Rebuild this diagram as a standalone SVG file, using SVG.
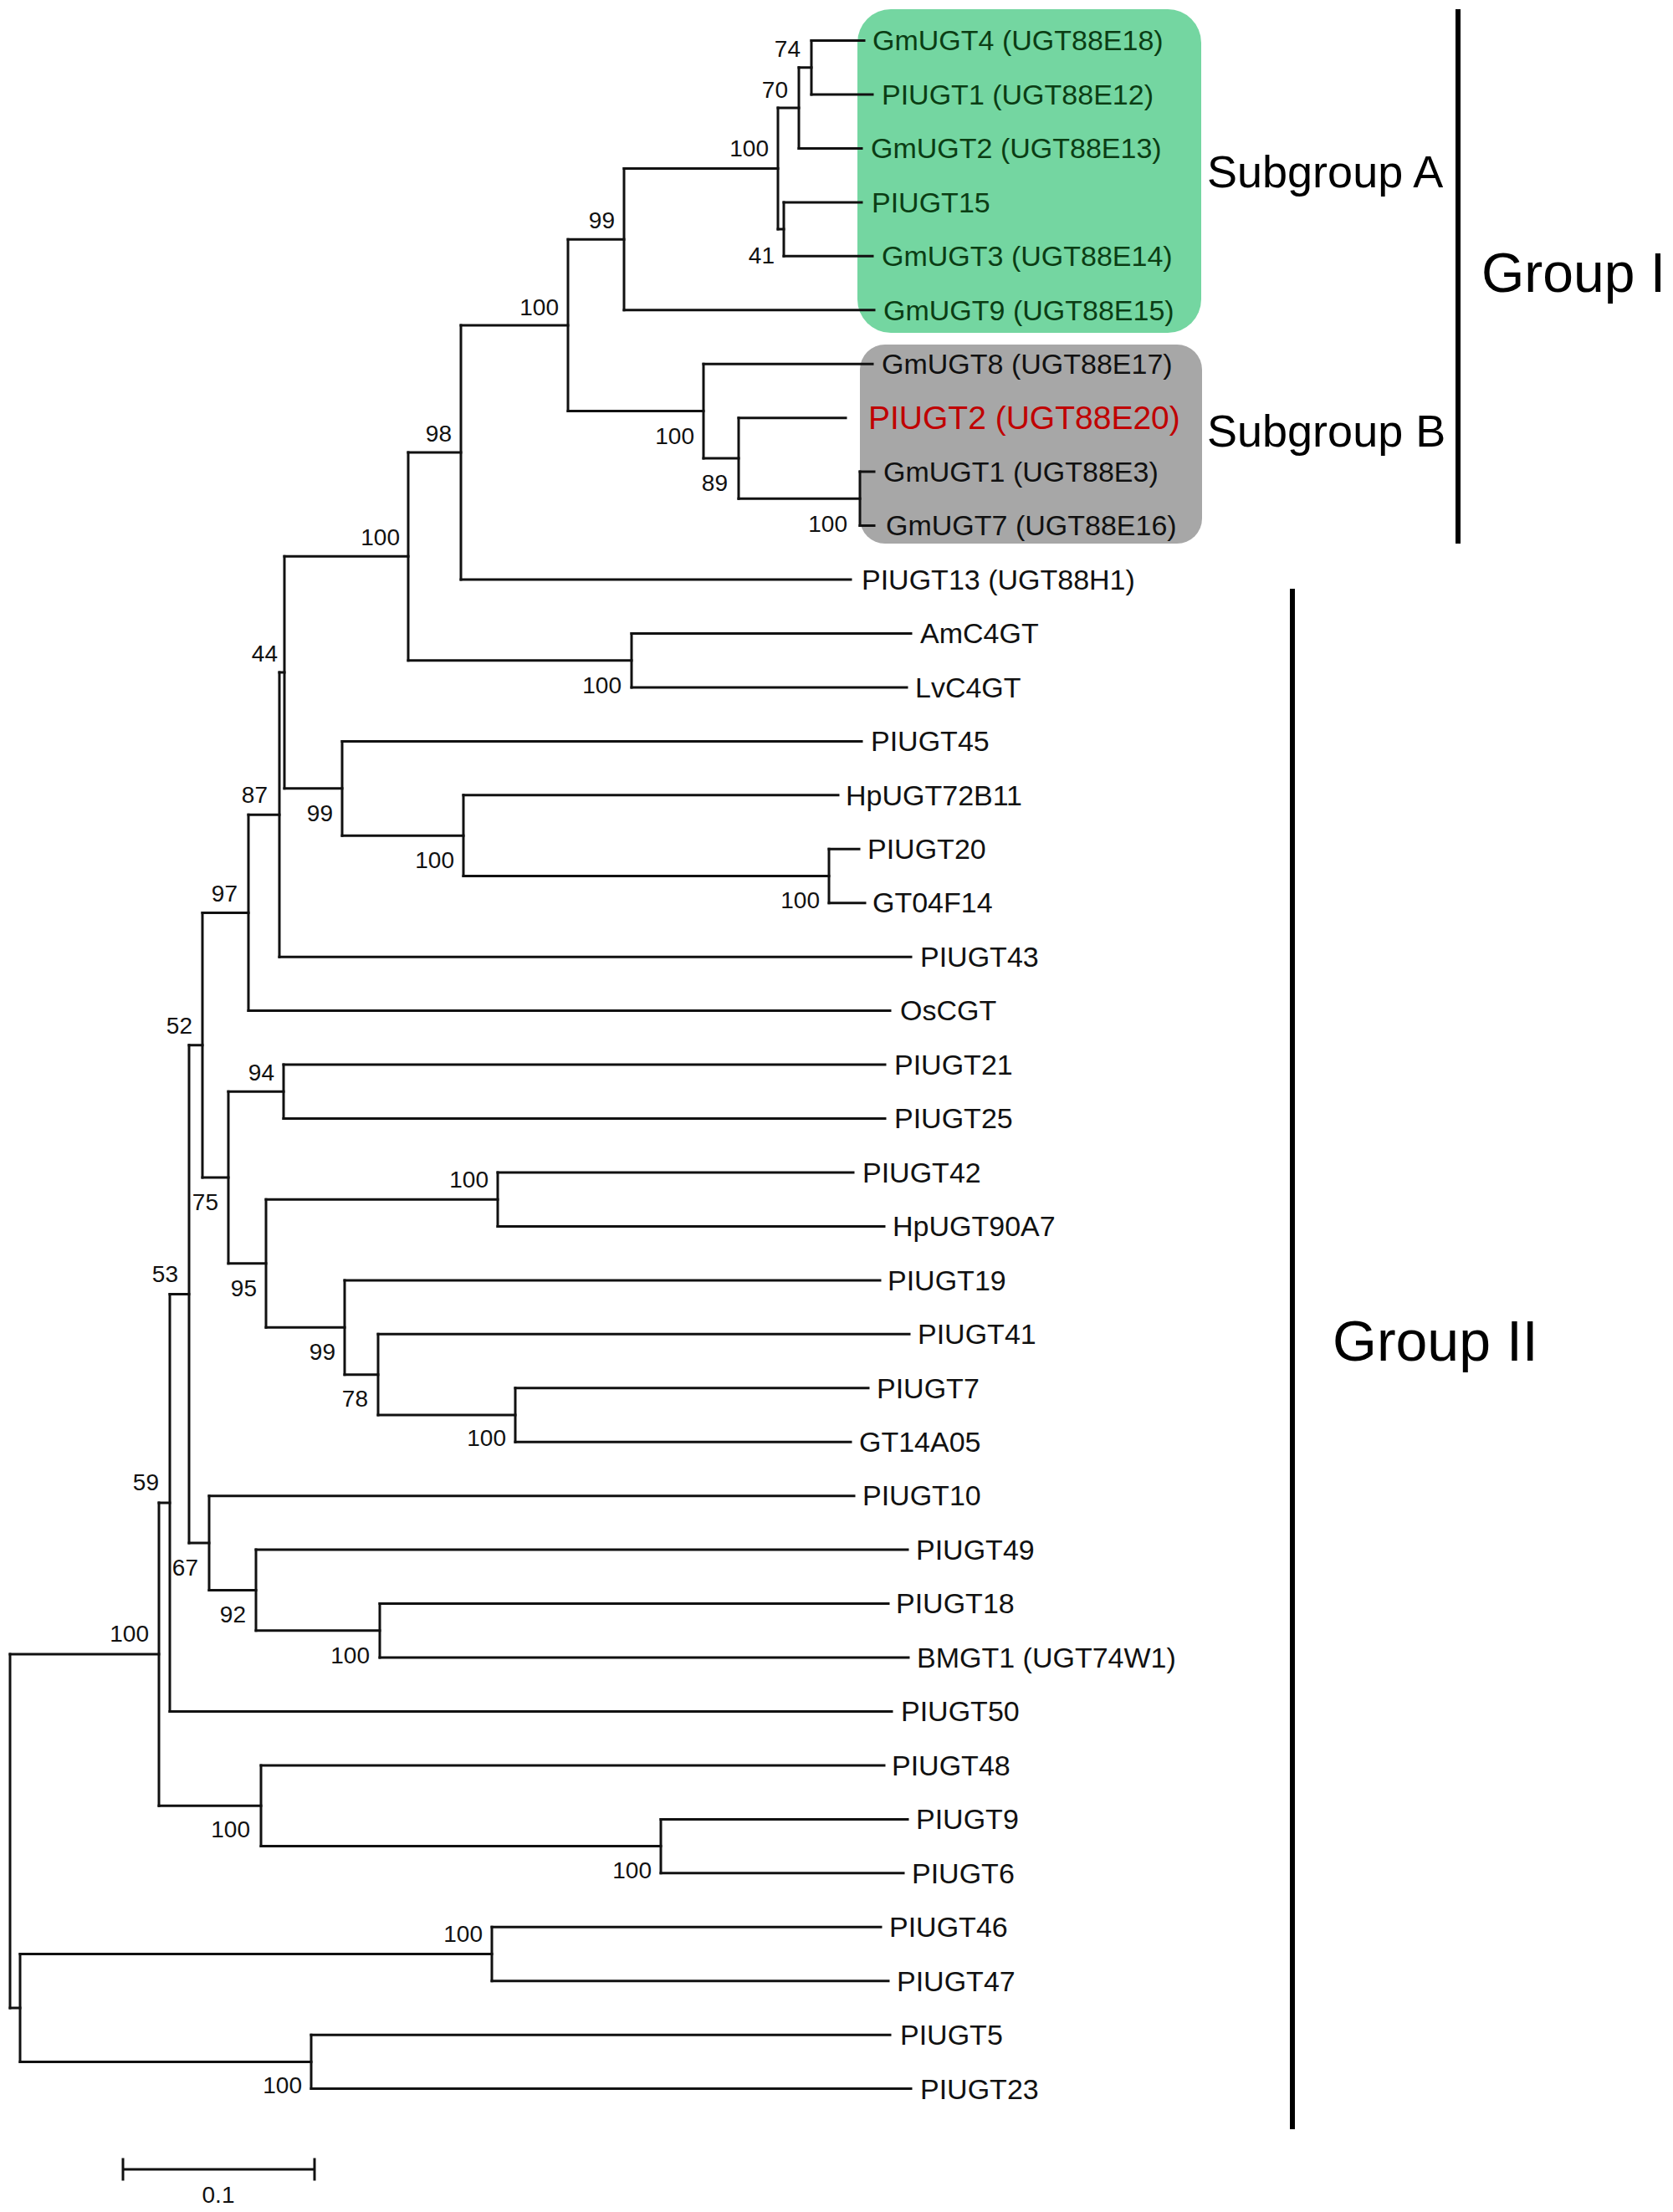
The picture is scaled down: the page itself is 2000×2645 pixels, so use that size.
<svg xmlns="http://www.w3.org/2000/svg" width="2000" height="2645" viewBox="0 0 2000 2645">
<style>
.br{fill:none;stroke:#111;stroke-width:3;stroke-linecap:square}
.lf{font-family:"Liberation Sans",Arial,sans-serif;font-size:34px;fill:#111}
.lg{font-family:"Liberation Sans",Arial,sans-serif;font-size:34px;fill:#0b3d14}
.bs{font-family:"Liberation Sans",Arial,sans-serif;font-size:28px;fill:#111;text-anchor:end}
.big{font-family:"Liberation Sans",Arial,sans-serif;fill:#000}
.bar{fill:none;stroke:#000;stroke-width:6}
</style>
<rect width="2000" height="2645" fill="#fff"/>
<g id="subgroupA-box"><rect x="1025" y="11" width="411" height="387" rx="40" fill="#74d6a1"/></g>
<g id="subgroupB-box"><rect x="1028" y="412" width="409" height="238" rx="30" fill="#a7a7a7"/></g>
<g id="connectors">
<path class="br" d="M970 48.5V113M955 80.75V177.4M937 241.9V306.3M930 129.1V274.1M746 201.6V370.8M1028 564.1V628.6M883 499.7V596.35M841 435.2V548M679 286.2V491.6M551 388.9V693M488 541V789.7M755 757.5V821.9M991 1015.3V1079.7M554 950.8V1047.5M409 886.4V999.15M340 665.35V942.8M334 804.1V1144.2M297 974.15V1208.6M339 1273.1V1337.5M595 1402V1466.4M616 1659.8V1724.2M452 1595.3V1692M412 1530.9V1643.65M318 1434.2V1587.3M273 1305.3V1510.75M242 1091.4V1408M454 1917.6V1982M306 1853.1V1949.8M250 1788.7V1901.45M226 1249.7V1845.1M203 1547.4V2046.5M790 2175.4V2239.8M312 2110.9V2207.6M190 1796.95V2159.25M588 2304.3V2368.7M372 2433.2V2497.6M24 2336.5V2465.4M12 1978.1V2400.95"/>
<path class="br" d="M955 80.75H970M930 129.1H955M930 274.1H937M746 201.6H930M679 286.2H746M883 596.35H1028M841 548H883M679 491.6H841M551 388.9H679M488 541H551M488 789.7H755M340 665.35H488M554 1047.5H991M409 999.15H554M340 942.8H409M334 804.1H340M297 974.15H334M242 1091.4H297M273 1305.3H339M318 1434.2H595M452 1692H616M412 1643.65H452M318 1587.3H412M273 1510.75H318M242 1408H273M226 1249.7H242M306 1949.8H454M250 1901.45H306M226 1845.1H250M203 1547.4H226M190 1796.95H203M312 2207.6H790M190 2159.25H312M12 1978.1H190M24 2336.5H588M24 2465.4H372M12 2400.95H24"/>
<path class="br" d="M970 48.5H1033M970 113H1043M955 177.4H1030M937 241.9H1030M937 306.3H1043M746 370.8H1045M841 435.2H1043M883 499.7H1011M1028 564.1H1045M1028 628.6H1045M551 693H1017M755 757.5H1089M755 821.9H1084M409 886.4H1030M554 950.8H1002M991 1015.3H1027M991 1079.7H1034M334 1144.2H1089M297 1208.6H1064M339 1273.1H1058M339 1337.5H1058M595 1402H1020M595 1466.4H1057M412 1530.9H1052M452 1595.3H1087M616 1659.8H1038M616 1724.2H1017M250 1788.7H1021M306 1853.1H1085M454 1917.6H1062M454 1982H1086M203 2046.5H1066M312 2110.9H1057M790 2175.4H1085M790 2239.8H1080M588 2304.3H1053M588 2368.7H1062M372 2433.2H1064M372 2497.6H1089"/>
</g>
<g id="leaves">
<g id="leaf-GmUGT4"><text class="lg" x="1043" y="60">GmUGT4 (UGT88E18)</text></g>
<g id="leaf-PlUGT1"><text class="lg" x="1054" y="125">PIUGT1 (UGT88E12)</text></g>
<g id="leaf-GmUGT2"><text class="lg" x="1041" y="189">GmUGT2 (UGT88E13)</text></g>
<g id="leaf-PlUGT15"><text class="lg" x="1042" y="254">PIUGT15</text></g>
<g id="leaf-GmUGT3"><text class="lg" x="1054" y="318">GmUGT3 (UGT88E14)</text></g>
<g id="leaf-GmUGT9"><text class="lg" x="1056" y="383">GmUGT9 (UGT88E15)</text></g>
<g id="leaf-GmUGT8"><text class="lf" x="1054" y="447">GmUGT8 (UGT88E17)</text></g>
<g id="leaf-PlUGT2"><text x="1038" y="513" style="font-family:'Liberation Sans',Arial,sans-serif;font-size:39px;fill:#c00000">PIUGT2 (UGT88E20)</text></g>
<g id="leaf-GmUGT1"><text class="lf" x="1056" y="576">GmUGT1 (UGT88E3)</text></g>
<g id="leaf-GmUGT7"><text class="lf" x="1059" y="640">GmUGT7 (UGT88E16)</text></g>
<g id="leaf-PlUGT13"><text class="lf" x="1030" y="705">PIUGT13 (UGT88H1)</text></g>
<g id="leaf-AmC4GT"><text class="lf" x="1100" y="769">AmC4GT</text></g>
<g id="leaf-LvC4GT"><text class="lf" x="1094" y="834">LvC4GT</text></g>
<g id="leaf-PlUGT45"><text class="lf" x="1041" y="898">PIUGT45</text></g>
<g id="leaf-HpUGT72B11"><text class="lf" x="1011" y="963">HpUGT72B11</text></g>
<g id="leaf-PlUGT20"><text class="lf" x="1037" y="1027">PIUGT20</text></g>
<g id="leaf-GT04F14"><text class="lf" x="1043" y="1091">GT04F14</text></g>
<g id="leaf-PlUGT43"><text class="lf" x="1100" y="1156">PIUGT43</text></g>
<g id="leaf-OsCGT"><text class="lf" x="1076" y="1220">OsCGT</text></g>
<g id="leaf-PlUGT21"><text class="lf" x="1069" y="1285">PIUGT21</text></g>
<g id="leaf-PlUGT25"><text class="lf" x="1069" y="1349">PIUGT25</text></g>
<g id="leaf-PlUGT42"><text class="lf" x="1031" y="1414">PIUGT42</text></g>
<g id="leaf-HpUGT90A7"><text class="lf" x="1067" y="1478">HpUGT90A7</text></g>
<g id="leaf-PlUGT19"><text class="lf" x="1061" y="1543">PIUGT19</text></g>
<g id="leaf-PlUGT41"><text class="lf" x="1097" y="1607">PIUGT41</text></g>
<g id="leaf-PlUGT7"><text class="lf" x="1048" y="1672">PIUGT7</text></g>
<g id="leaf-GT14A05"><text class="lf" x="1027" y="1736">GT14A05</text></g>
<g id="leaf-PlUGT10"><text class="lf" x="1031" y="1800">PIUGT10</text></g>
<g id="leaf-PlUGT49"><text class="lf" x="1095" y="1865">PIUGT49</text></g>
<g id="leaf-PlUGT18"><text class="lf" x="1071" y="1929">PIUGT18</text></g>
<g id="leaf-BMGT1"><text class="lf" x="1096" y="1994">BMGT1 (UGT74W1)</text></g>
<g id="leaf-PlUGT50"><text class="lf" x="1077" y="2058">PIUGT50</text></g>
<g id="leaf-PlUGT48"><text class="lf" x="1066" y="2123">PIUGT48</text></g>
<g id="leaf-PlUGT9"><text class="lf" x="1095" y="2187">PIUGT9</text></g>
<g id="leaf-PlUGT6"><text class="lf" x="1090" y="2252">PIUGT6</text></g>
<g id="leaf-PlUGT46"><text class="lf" x="1063" y="2316">PIUGT46</text></g>
<g id="leaf-PlUGT47"><text class="lf" x="1072" y="2381">PIUGT47</text></g>
<g id="leaf-PlUGT5"><text class="lf" x="1076" y="2445">PIUGT5</text></g>
<g id="leaf-PlUGT23"><text class="lf" x="1100" y="2510">PIUGT23</text></g>
</g>
<g id="bootstrap">
<text class="bs" x="957" y="68">74</text>
<text class="bs" x="942" y="117">70</text>
<text class="bs" x="919" y="187">100</text>
<text class="bs" x="926" y="315">41</text>
<text class="bs" x="735" y="273">99</text>
<text class="bs" x="668" y="377">100</text>
<text class="bs" x="830" y="531">100</text>
<text class="bs" x="870" y="587">89</text>
<text class="bs" x="1013" y="636">100</text>
<text class="bs" x="540" y="528">98</text>
<text class="bs" x="478" y="652">100</text>
<text class="bs" x="743" y="829">100</text>
<text class="bs" x="332" y="791">44</text>
<text class="bs" x="398" y="982">99</text>
<text class="bs" x="543" y="1038">100</text>
<text class="bs" x="980" y="1086">100</text>
<text class="bs" x="320" y="960">87</text>
<text class="bs" x="284" y="1078">97</text>
<text class="bs" x="230" y="1236">52</text>
<text class="bs" x="328" y="1292">94</text>
<text class="bs" x="261" y="1447">75</text>
<text class="bs" x="213" y="1533">53</text>
<text class="bs" x="307" y="1550">95</text>
<text class="bs" x="584" y="1420">100</text>
<text class="bs" x="401" y="1626">99</text>
<text class="bs" x="440" y="1682">78</text>
<text class="bs" x="605" y="1729">100</text>
<text class="bs" x="237" y="1884">67</text>
<text class="bs" x="294" y="1940">92</text>
<text class="bs" x="442" y="1989">100</text>
<text class="bs" x="190" y="1782">59</text>
<text class="bs" x="178" y="1963">100</text>
<text class="bs" x="299" y="2197">100</text>
<text class="bs" x="779" y="2246">100</text>
<text class="bs" x="577" y="2322">100</text>
<text class="bs" x="361" y="2503">100</text>
</g>
<g id="group-labels">
<text class="big" x="1443" y="224" style="font-size:54px">Subgroup A</text>
<text class="big" x="1443" y="534" style="font-size:54px">Subgroup B</text>
<path class="bar" d="M1743 11V650"/>
<text class="big" x="1771" y="349" style="font-size:66px">Group I</text>
<path class="bar" d="M1545 704V2546"/>
<text class="big" x="1593" y="1627" style="font-size:68px">Group II</text>
</g>
<g id="scale-bar">
<path class="br" d="M147 2594H376M147 2582V2606M376 2582V2606"/>
<text x="261" y="2634" style="font-family:'Liberation Sans',Arial,sans-serif;font-size:28px;fill:#111;text-anchor:middle">0.1</text>
</g>
</svg>
